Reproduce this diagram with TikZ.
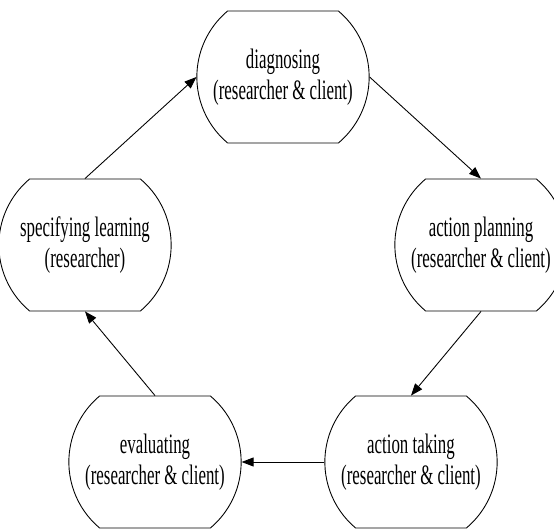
\documentclass[tikz,border=0pt]{standalone}
\usepackage{fontspec}
\newfontfamily\stagefont[FakeStretch=0.6]{Liberation Serif}
\usetikzlibrary{arrows.meta,shapes.misc}

\begin{document}
\begin{tikzpicture}[every node/.style={font=\stagefont\fontsize{16}{17.5}\selectfont}]
\tikzset{stage/.style={draw, line width=0.5pt, rounded rectangle, rounded rectangle arc length=100, minimum width=3cm, minimum height=2.64cm, align=center, inner sep=1pt}}
\tikzset{flow/.style={-{Triangle[length=2.4mm,width=1.8mm]}, line width=0.5pt}}
\useasboundingbox (0,0) rectangle (11.08,10.6);
\node[stage] (diag) at (5.66,9.06) {diagnosing\\(researcher \& client)};
\node[stage] (plan) at (9.62,5.70) {action planning\\(researcher \& client)};
\node[stage] (take) at (8.22,1.36) {action taking\\(researcher \& client)};
\node[stage] (eval) at (3.10,1.36) {evaluating\\(researcher \& client)};
\node[stage] (spec) at (1.70,5.70) {specifying learning\\(researcher)};
\draw[flow] (diag.east)--(plan.north);
\draw[flow] (plan.south)--(take.north);
\draw[flow] (take.west)--(eval.east);
\draw[flow] (eval.north)--(spec.south);
\draw[flow] (spec.north)--(diag.west);
\end{tikzpicture}
\end{document}
